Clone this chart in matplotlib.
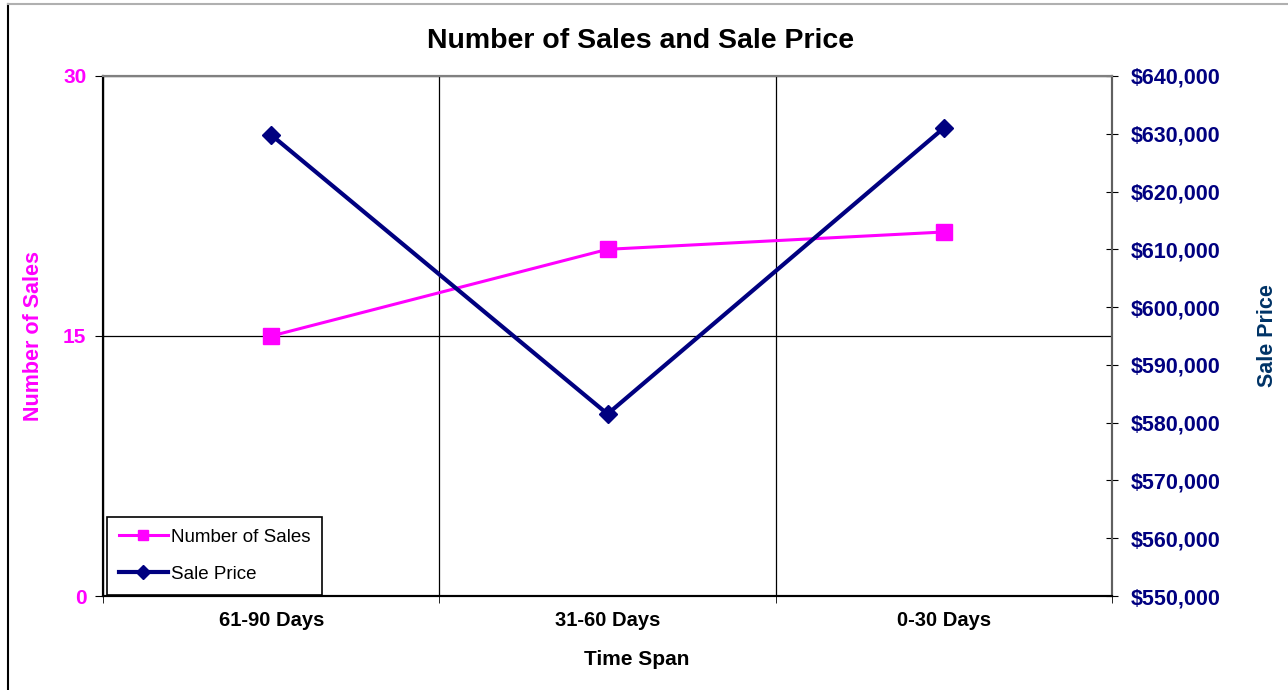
import matplotlib
matplotlib.use("Agg")
import matplotlib.pyplot as plt
from matplotlib.lines import Line2D
from matplotlib.ticker import FuncFormatter

plt.rcParams['font.family'] = ['Liberation Sans', 'DejaVu Sans']

# Data
time_spans = ['61-90 Days', '31-60 Days', '0-30 Days']
num_sales = [15, 20, 21]
sale_price = [629800, 581500, 631000]

pink = '#FF00FF'
navy = '#000080'

fig = plt.figure(figsize=(12.88, 6.9), dpi=100)
ax = fig.add_axes([0.080, 0.1362, 0.7834, 0.7537])
ax2 = ax.twinx()

x = list(range(len(time_spans)))

# Number of Sales (left axis)
l1, = ax.plot(x, num_sales, color=pink, lw=2.2, marker='s', markersize=11,
              label='Number of Sales', zorder=3)
# Sale Price (right axis)
l2, = ax2.plot(x, sale_price, color=navy, lw=3, marker='D', markersize=9,
               label='Sale Price', zorder=3)

ax.set_xlim(-0.5, 2.5)
ax.set_ylim(0, 30)
ax2.set_ylim(550000, 640000)

ax.set_xticks(x)
ax.set_xticklabels(time_spans, fontsize=14.5, fontweight='bold')
ax.set_xticks([-0.5, 0.5, 1.5, 2.5], minor=True)
ax.tick_params(axis='x', which='major', length=0, pad=11)
ax.tick_params(axis='x', which='minor', length=5, direction='out', color='black')
ax.grid(True, which='minor', axis='x', color='black', lw=0.9)

ax.set_yticks([0, 15, 30])
ax.tick_params(axis='y', length=6, direction='out', labelsize=15,
               labelcolor=pink, pad=6)
for t in ax.get_yticklabels():
    t.set_fontweight('bold')
ax.grid(True, which='major', axis='y', color='black', lw=0.9)

ax2.set_yticks(range(550000, 640001, 10000))
ax2.yaxis.set_major_formatter(FuncFormatter(lambda v, p: '${:,.0f}'.format(v)))
ax2.tick_params(axis='y', length=9, direction='inout', labelsize=15.5,
                labelcolor=navy, pad=9)
for t in ax2.get_yticklabels():
    t.set_fontweight('bold')

for a in (ax, ax2):
    a.spines['left'].set_color('black')
    a.spines['bottom'].set_color('black')
    a.spines['top'].set_color('#808080')
    a.spines['right'].set_color('#606060')
    for s in a.spines.values():
        s.set_linewidth(1.5)

fig.suptitle('Number of Sales and Sale Price', x=0.497, y=0.941, va='center',
             fontsize=20.5, fontweight='bold')
ax.set_xlabel('Time Span', fontsize=15, fontweight='bold')
ax.xaxis.set_label_coords(0.529, -0.104)
ax.set_ylabel('Number of Sales', fontsize=15.5, fontweight='bold', color=pink, labelpad=14)
ax2.set_ylabel('Sale Price', fontsize=15.5, fontweight='bold', color='#003366', labelpad=26)

leg = ax2.legend(handles=[l1, l2], loc='lower left', bbox_to_anchor=(0.0, -0.005),
                 fontsize=13.5, frameon=True, fancybox=False, framealpha=1,
                 edgecolor='black', borderpad=0.65, labelspacing=1.05,
                 handlelength=2.6, handletextpad=0.15, borderaxespad=0.2)
leg.get_frame().set_linewidth(1.2)
for h in leg.legend_handles:
    h.set_markersize(7)

# outer chart border
fig.add_artist(Line2D([8 / 1288, 8 / 1288], [0, 1 - 4 / 690], color='black', lw=1.5))
fig.add_artist(Line2D([8 / 1288, 1], [1 - 4 / 690, 1 - 4 / 690], color='#B0B0B0', lw=1.5))

fig.savefig('out.png', dpi=100)
